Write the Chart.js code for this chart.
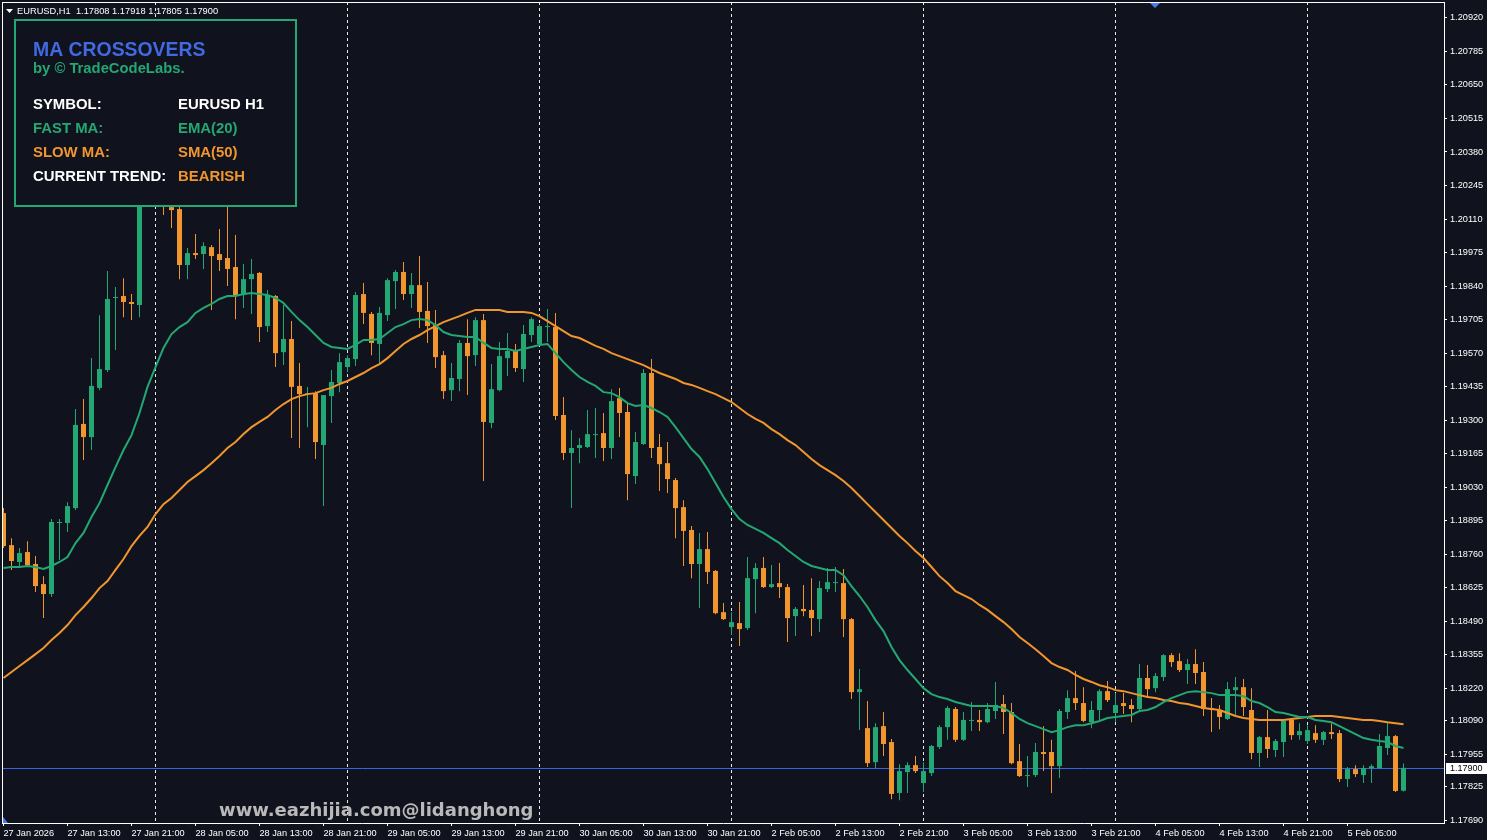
<!DOCTYPE html>
<html>
<head>
<meta charset="utf-8">
<title>EURUSD H1 - MA Crossovers</title>
<script src="https://cdn.jsdelivr.net/npm/chart.js@4.4.1/dist/chart.umd.min.js"></script>
<style>
  html, body { margin: 0; padding: 0; background: #10121d; overflow: hidden; }
  canvas { display: block; }
</style>
</head>
<body>
<canvas id="chart" width="1487" height="840"></canvas>
<script>
// EURUSD H1 candles, 27 Jan 05:00 .. 5 Feb 12:00 (one row = 8 bars)
const opens = [
  1.18926, 1.18797, 1.18729, 1.18769, 1.18721, 1.18640, 1.18600, 1.18886,
  1.18886, 1.18946, 1.19285, 1.19232, 1.19430, 1.19502, 1.19792, 1.19800,
  1.19776, 1.19764, 1.20569, 1.20750, 1.20428, 1.20158, 1.20150, 1.19925,
  1.19973, 1.19969, 1.19997, 1.19969, 1.19953, 1.19917, 1.19804, 1.19868,
  1.19893, 1.19679, 1.19800, 1.19574, 1.19627, 1.19438, 1.19405, 1.19409,
  1.19200, 1.19397, 1.19450, 1.19514, 1.19546, 1.19808, 1.19728, 1.19607,
  1.19723, 1.19860, 1.19897, 1.19808, 1.19844, 1.19740, 1.19683, 1.19562,
  1.19421, 1.19466, 1.19611, 1.19562, 1.19703, 1.19289, 1.19421, 1.19550,
  1.19579, 1.19506, 1.19643, 1.19607, 1.19675, 1.19675, 1.19321, 1.19168,
  1.19188, 1.19192, 1.19240, 1.19248, 1.19188, 1.19389, 1.19333, 1.19075,
  1.19204, 1.19490, 1.19192, 1.19127, 1.19059, 1.18950, 1.18858, 1.18721,
  1.18781, 1.18693, 1.18527, 1.18467, 1.18483, 1.18463, 1.18660, 1.18705,
  1.18628, 1.18644, 1.18628, 1.18511, 1.18540, 1.18536, 1.18499, 1.18620,
  1.18644, 1.18644, 1.18499, 1.18205, 1.18060, 1.17923, 1.18068, 1.18004,
  1.17799, 1.17883, 1.17911, 1.17839, 1.17879, 1.17984, 1.18064, 1.18137,
  1.18013, 1.18089, 1.18093, 1.18084, 1.18129, 1.18157, 1.18125, 1.17927,
  1.17867, 1.17871, 1.17964, 1.17964, 1.17907, 1.18125, 1.18181, 1.18161,
  1.18084, 1.18133, 1.18209, 1.18121, 1.18161, 1.18153, 1.18137, 1.18262,
  1.18221, 1.18266, 1.18354, 1.18330, 1.18294, 1.18318, 1.18286, 1.18141,
  1.18133, 1.18097, 1.18213, 1.18225, 1.18133, 1.17960, 1.18024, 1.17972,
  1.18004, 1.18093, 1.18032, 1.18008, 1.18040, 1.18013, 1.18044, 1.18040,
  1.17855, 1.17895, 1.17871, 1.17899, 1.17899, 1.17980, 1.18028, 1.17808,
];
const highs = [
  1.18946, 1.18825, 1.18785, 1.18813, 1.18753, 1.18672, 1.18902, 1.18902,
  1.18970, 1.19345, 1.19385, 1.19550, 1.19723, 1.19901, 1.19836, 1.19872,
  1.19808, 1.20609, 1.20891, 1.20831, 1.20509, 1.20162, 1.20166, 1.19993,
  1.20050, 1.20017, 1.20005, 1.20070, 1.20166, 1.20046, 1.19929, 1.19949,
  1.19897, 1.19824, 1.19804, 1.19764, 1.19699, 1.19530, 1.19434, 1.19417,
  1.19401, 1.19502, 1.19570, 1.19562, 1.19816, 1.19852, 1.19736, 1.19756,
  1.19872, 1.19905, 1.19937, 1.19893, 1.19961, 1.19856, 1.19744, 1.19579,
  1.19530, 1.19623, 1.19707, 1.19715, 1.19728, 1.19526, 1.19615, 1.19651,
  1.19607, 1.19683, 1.19715, 1.19687, 1.19748, 1.19732, 1.19393, 1.19260,
  1.19228, 1.19341, 1.19349, 1.19329, 1.19425, 1.19430, 1.19369, 1.19252,
  1.19506, 1.19546, 1.19244, 1.19212, 1.19067, 1.18978, 1.18874, 1.18846,
  1.18850, 1.18697, 1.18564, 1.18527, 1.18568, 1.18749, 1.18725, 1.18749,
  1.18717, 1.18725, 1.18640, 1.18548, 1.18636, 1.18664, 1.18652, 1.18705,
  1.18709, 1.18701, 1.18503, 1.18298, 1.18169, 1.18080, 1.18125, 1.18016,
  1.17915, 1.17923, 1.17948, 1.17923, 1.17992, 1.18072, 1.18149, 1.18145,
  1.18125, 1.18165, 1.18133, 1.18161, 1.18246, 1.18193, 1.18161, 1.17996,
  1.17948, 1.18000, 1.18068, 1.18013, 1.18137, 1.18213, 1.18290, 1.18225,
  1.18169, 1.18217, 1.18250, 1.18201, 1.18201, 1.18177, 1.18318, 1.18314,
  1.18282, 1.18358, 1.18362, 1.18362, 1.18338, 1.18378, 1.18326, 1.18181,
  1.18153, 1.18246, 1.18266, 1.18258, 1.18221, 1.18028, 1.18133, 1.18016,
  1.18097, 1.18101, 1.18080, 1.18072, 1.18072, 1.18048, 1.18080, 1.18052,
  1.17903, 1.17911, 1.17911, 1.17915, 1.18036, 1.18084, 1.18032, 1.17918,
];
const lows = [
  1.18785, 1.18697, 1.18709, 1.18709, 1.18608, 1.18503, 1.18588, 1.18737,
  1.18850, 1.18938, 1.19140, 1.19180, 1.19421, 1.19494, 1.19583, 1.19715,
  1.19703, 1.19715, 1.20468, 1.20388, 1.20126, 1.20074, 1.19868, 1.19868,
  1.19949, 1.19909, 1.19744, 1.19901, 1.19840, 1.19707, 1.19752, 1.19728,
  1.19615, 1.19655, 1.19514, 1.19522, 1.19228, 1.19188, 1.19272, 1.19144,
  1.18954, 1.19289, 1.19413, 1.19494, 1.19518, 1.19687, 1.19562, 1.19530,
  1.19699, 1.19748, 1.19784, 1.19752, 1.19671, 1.19611, 1.19510, 1.19385,
  1.19377, 1.19417, 1.19401, 1.19518, 1.19055, 1.19268, 1.19417, 1.19478,
  1.19494, 1.19454, 1.19615, 1.19599, 1.19615, 1.19301, 1.19140, 1.18946,
  1.19127, 1.19188, 1.19148, 1.19136, 1.19144, 1.19232, 1.18978, 1.19043,
  1.19200, 1.19148, 1.19015, 1.19007, 1.18825, 1.18713, 1.18664, 1.18544,
  1.18640, 1.18519, 1.18495, 1.18435, 1.18391, 1.18455, 1.18523, 1.18624,
  1.18624, 1.18584, 1.18407, 1.18431, 1.18511, 1.18431, 1.18447, 1.18608,
  1.18608, 1.18427, 1.18177, 1.18052, 1.17903, 1.17899, 1.17948, 1.17774,
  1.17770, 1.17799, 1.17879, 1.17803, 1.17867, 1.17976, 1.18013, 1.18004,
  1.18008, 1.18048, 1.18048, 1.18080, 1.18097, 1.18036, 1.17915, 1.17863,
  1.17823, 1.17863, 1.17887, 1.17799, 1.17859, 1.18097, 1.18133, 1.18084,
  1.18060, 1.18093, 1.18165, 1.18084, 1.18117, 1.18084, 1.18133, 1.18185,
  1.18205, 1.18250, 1.18306, 1.18286, 1.18238, 1.18238, 1.18109, 1.18044,
  1.18056, 1.18093, 1.18109, 1.18109, 1.17935, 1.17903, 1.17940, 1.17944,
  1.17944, 1.18013, 1.18013, 1.17996, 1.18000, 1.17992, 1.18016, 1.17843,
  1.17823, 1.17863, 1.17839, 1.17839, 1.17895, 1.17952, 1.17803, 1.17805,
];
const closes = [
  1.18793, 1.18733, 1.18765, 1.18717, 1.18632, 1.18600, 1.18890, 1.18890,
  1.18954, 1.19281, 1.19232, 1.19438, 1.19506, 1.19788, 1.19796, 1.19776,
  1.19768, 1.20569, 1.20750, 1.20428, 1.20187, 1.20146, 1.19925, 1.19973,
  1.19965, 1.20001, 1.19961, 1.19945, 1.19909, 1.19804, 1.19868, 1.19889,
  1.19675, 1.19804, 1.19570, 1.19627, 1.19434, 1.19405, 1.19409, 1.19212,
  1.19401, 1.19454, 1.19534, 1.19550, 1.19804, 1.19732, 1.19611, 1.19732,
  1.19864, 1.19897, 1.19808, 1.19844, 1.19736, 1.19679, 1.19554, 1.19417,
  1.19470, 1.19611, 1.19558, 1.19703, 1.19293, 1.19425, 1.19558, 1.19579,
  1.19510, 1.19647, 1.19707, 1.19679, 1.19679, 1.19317, 1.19168, 1.19188,
  1.19200, 1.19244, 1.19244, 1.19188, 1.19377, 1.19329, 1.19083, 1.19212,
  1.19490, 1.19188, 1.19123, 1.19063, 1.18946, 1.18854, 1.18721, 1.18781,
  1.18689, 1.18523, 1.18499, 1.18487, 1.18459, 1.18664, 1.18705, 1.18628,
  1.18640, 1.18628, 1.18503, 1.18540, 1.18531, 1.18503, 1.18624, 1.18648,
  1.18646, 1.18499, 1.18205, 1.18217, 1.17919, 1.18064, 1.17996, 1.17795,
  1.17887, 1.17911, 1.17887, 1.17887, 1.17988, 1.18064, 1.18141, 1.18013,
  1.18093, 1.18093, 1.18084, 1.18137, 1.18153, 1.18125, 1.17919, 1.17867,
  1.17871, 1.17964, 1.17956, 1.17907, 1.18129, 1.18181, 1.18161, 1.18089,
  1.18133, 1.18209, 1.18173, 1.18153, 1.18149, 1.18137, 1.18262, 1.18217,
  1.18270, 1.18354, 1.18326, 1.18294, 1.18318, 1.18282, 1.18137, 1.18133,
  1.18105, 1.18217, 1.18225, 1.18145, 1.17960, 1.18024, 1.17976, 1.18008,
  1.18089, 1.18032, 1.18048, 1.18052, 1.18013, 1.18044, 1.18036, 1.17855,
  1.17895, 1.17875, 1.17899, 1.17907, 1.17988, 1.18028, 1.17807, 1.17900,
];

// indicator values
const emaFast = [
  1.18705, 1.18709, 1.18709, 1.18713, 1.18709, 1.18701, 1.18713, 1.18729,
  1.18749, 1.18805, 1.18846, 1.18910, 1.18966, 1.19039, 1.19111, 1.19180,
  1.19240, 1.19329, 1.19434, 1.19514, 1.19591, 1.19647, 1.19675, 1.19695,
  1.19732, 1.19752, 1.19768, 1.19788, 1.19800, 1.19800, 1.19808, 1.19812,
  1.19808, 1.19804, 1.19792, 1.19772, 1.19736, 1.19703, 1.19675, 1.19643,
  1.19611, 1.19595, 1.19591, 1.19587, 1.19603, 1.19623, 1.19623, 1.19627,
  1.19651, 1.19675, 1.19687, 1.19703, 1.19707, 1.19703, 1.19683, 1.19655,
  1.19643, 1.19639, 1.19635, 1.19635, 1.19611, 1.19591, 1.19587, 1.19587,
  1.19579, 1.19587, 1.19595, 1.19603, 1.19607, 1.19570, 1.19534, 1.19502,
  1.19474, 1.19454, 1.19438, 1.19413, 1.19409, 1.19393, 1.19369, 1.19357,
  1.19361, 1.19349, 1.19333, 1.19313, 1.19272, 1.19228, 1.19184, 1.19152,
  1.19103, 1.19047, 1.18991, 1.18942, 1.18902, 1.18878, 1.18862, 1.18846,
  1.18825, 1.18805, 1.18777, 1.18753, 1.18729, 1.18713, 1.18705, 1.18697,
  1.18697, 1.18676, 1.18632, 1.18592, 1.18548, 1.18495, 1.18451, 1.18387,
  1.18334, 1.18294, 1.18258, 1.18221, 1.18197, 1.18185, 1.18177, 1.18165,
  1.18157, 1.18149, 1.18149, 1.18149, 1.18149, 1.18141, 1.18121, 1.18097,
  1.18080, 1.18068, 1.18056, 1.18044, 1.18052, 1.18064, 1.18072, 1.18072,
  1.18080, 1.18089, 1.18101, 1.18105, 1.18109, 1.18113, 1.18129, 1.18133,
  1.18145, 1.18165, 1.18181, 1.18193, 1.18205, 1.18209, 1.18205, 1.18201,
  1.18193, 1.18193, 1.18193, 1.18189, 1.18169, 1.18161, 1.18145, 1.18125,
  1.18121, 1.18113, 1.18105, 1.18105, 1.18093, 1.18089, 1.18084, 1.18068,
  1.18052, 1.18036, 1.18020, 1.18013, 1.18008, 1.18004, 1.17988, 1.17980,
];
const smaSlow = [
  1.18262, 1.18286, 1.18310, 1.18334, 1.18358, 1.18383, 1.18415, 1.18443,
  1.18475, 1.18515, 1.18548, 1.18584, 1.18624, 1.18652, 1.18697, 1.18741,
  1.18793, 1.18834, 1.18870, 1.18922, 1.18962, 1.18987, 1.19019, 1.19051,
  1.19075, 1.19099, 1.19127, 1.19156, 1.19188, 1.19212, 1.19244, 1.19272,
  1.19293, 1.19313, 1.19341, 1.19365, 1.19385, 1.19397, 1.19405, 1.19409,
  1.19421, 1.19430, 1.19446, 1.19458, 1.19474, 1.19490, 1.19510, 1.19526,
  1.19550, 1.19579, 1.19607, 1.19627, 1.19643, 1.19663, 1.19679, 1.19695,
  1.19707, 1.19719, 1.19732, 1.19744, 1.19744, 1.19744, 1.19744, 1.19736,
  1.19736, 1.19736, 1.19732, 1.19719, 1.19699, 1.19679, 1.19659, 1.19639,
  1.19631, 1.19615, 1.19599, 1.19587, 1.19570, 1.19558, 1.19546, 1.19534,
  1.19522, 1.19506, 1.19490, 1.19478, 1.19466, 1.19450, 1.19442, 1.19430,
  1.19417, 1.19405, 1.19389, 1.19373, 1.19349, 1.19325, 1.19305, 1.19289,
  1.19264, 1.19244, 1.19220, 1.19200, 1.19172, 1.19144, 1.19119, 1.19099,
  1.19079, 1.19055, 1.19027, 1.18995, 1.18962, 1.18930, 1.18898, 1.18866,
  1.18834, 1.18805, 1.18773, 1.18745, 1.18709, 1.18672, 1.18644, 1.18612,
  1.18596, 1.18580, 1.18556, 1.18536, 1.18511, 1.18487, 1.18459, 1.18427,
  1.18403, 1.18378, 1.18350, 1.18322, 1.18306, 1.18294, 1.18274, 1.18258,
  1.18246, 1.18233, 1.18225, 1.18213, 1.18209, 1.18201, 1.18193, 1.18185,
  1.18181, 1.18173, 1.18169, 1.18161, 1.18157, 1.18149, 1.18141, 1.18137,
  1.18133, 1.18121, 1.18109, 1.18101, 1.18097, 1.18093, 1.18093, 1.18093,
  1.18093, 1.18097, 1.18101, 1.18105, 1.18109, 1.18109, 1.18109, 1.18105,
  1.18101, 1.18097, 1.18093, 1.18093, 1.18089, 1.18084, 1.18080, 1.18076,
];

// time axis labels, one every 8 bars
const timeLabels = [
  '27 Jan 2026', '27 Jan 13:00', '27 Jan 21:00', '28 Jan 05:00', '28 Jan 13:00',
  '28 Jan 21:00', '29 Jan 05:00', '29 Jan 13:00', '29 Jan 21:00', '30 Jan 05:00',
  '30 Jan 13:00', '30 Jan 21:00', '2 Feb 05:00', '2 Feb 13:00', '2 Feb 21:00',
  '3 Feb 05:00', '3 Feb 13:00', '3 Feb 21:00', '4 Feb 05:00', '4 Feb 13:00',
  '4 Feb 21:00', '5 Feb 05:00',
];
const barsPerLabel = 8;
// bars that open a new day (00:00)
const dayStarts = [19, 43, 67, 91, 115, 139, 163];

const priceTicks = [
  1.17690, 1.17825, 1.17955, 1.18090, 1.18220, 1.18355, 1.18490, 1.18625,
  1.18760, 1.18895, 1.19030, 1.19165, 1.19300, 1.19435, 1.19570, 1.19705,
  1.19840, 1.19975, 1.20110, 1.20245, 1.20380, 1.20515, 1.20650, 1.20785,
  1.20920,
];

const BG = '#10121d';
const UP = '#23a873';
const DOWN = '#f0962d';
const PRICE_LINE = '#3b63e6';
const FONT = "'Liberation Sans', Arial, sans-serif";

const last = closes.length - 1;
const candleColors = opens.map((o, i) => (closes[i] >= o ? UP : DOWN));
const wickData = highs.map((h, i) => ({ x: i, y: [lows[i], h] }));
const bodyData = opens.map((o, i) => ({ x: i, y: [o, closes[i]] }));
const emaData = emaFast.map((v, i) => ({ x: i, y: v }));
const smaData = smaSlow.map((v, i) => ({ x: i, y: v }));

Chart.defaults.font.family = FONT;

// background + dashed day separators + bid line, under the candles
const underlay = {
  id: 'underlay',
  beforeDraw(chart) {
    const { ctx, width, height } = chart;
    ctx.save();
    ctx.fillStyle = BG;
    ctx.fillRect(0, 0, width, height);
    ctx.restore();
  },
  beforeDatasetsDraw(chart) {
    const { ctx, chartArea, scales } = chart;
    ctx.save();
    ctx.strokeStyle = '#e6e6e6';
    ctx.lineWidth = 1;
    ctx.setLineDash([3, 3]);
    dayStarts.forEach((bar) => {
      const x = Math.floor(scales.x.getPixelForValue(bar)) + 0.5;
      ctx.beginPath();
      ctx.moveTo(x, chartArea.top);
      ctx.lineTo(x, chartArea.bottom);
      ctx.stroke();
    });
    ctx.setLineDash([]);
    const y = Math.round(scales.y.getPixelForValue(closes[last])) + 0.5;
    ctx.strokeStyle = PRICE_LINE;
    ctx.beginPath();
    ctx.moveTo(chartArea.left, y);
    ctx.lineTo(chartArea.right, y);
    ctx.stroke();
    ctx.restore();
  },
};

// frame, price tag, header line, info panel, watermark
const overlay = {
  id: 'overlay',
  afterDraw(chart) {
    const { ctx, chartArea, scales } = chart;
    ctx.save();

    ctx.fillStyle = '#ffffff';
    ctx.fillRect(chartArea.left, chartArea.top, 1, chartArea.bottom - chartArea.top);
    ctx.fillRect(chartArea.left, chartArea.top, chartArea.right - chartArea.left, 1);

    // current price tag on the axis
    const py = scales.y.getPixelForValue(closes[last]);
    ctx.fillStyle = '#ffffff';
    ctx.fillRect(chartArea.right + 2, Math.round(py) - 5, 41, 11);
    ctx.fillStyle = '#000000';
    ctx.font = `9px ${FONT}`;
    ctx.textBaseline = 'middle';
    ctx.fillText(closes[last].toFixed(5), chartArea.right + 6, Math.round(py) + 0.5);

    // little blue markers
    ctx.fillStyle = '#4f7bf0';
    ctx.beginPath();
    ctx.moveTo(1150, 3);
    ctx.lineTo(1160, 3);
    ctx.lineTo(1155, 8);
    ctx.closePath();
    ctx.fill();
    ctx.beginPath();
    ctx.moveTo(3, 817);
    ctx.lineTo(3, 823);
    ctx.lineTo(8, 823);
    ctx.closePath();
    ctx.fill();

    // header
    ctx.fillStyle = '#ffffff';
    ctx.beginPath();
    ctx.moveTo(6, 9);
    ctx.lineTo(13, 9);
    ctx.lineTo(9.5, 13);
    ctx.closePath();
    ctx.fill();
    ctx.textBaseline = 'alphabetic';
    ctx.font = `9.3px ${FONT}`;
    const ohlc = [opens[last], highs[last], lows[last], closes[last]].map((v) => v.toFixed(5)).join(' ');
    ctx.fillText(`EURUSD,H1  ${ohlc}`, 17, 14);

    // info panel
    ctx.fillStyle = BG;
    ctx.fillRect(15, 20, 281, 186);
    ctx.strokeStyle = UP;
    ctx.lineWidth = 2;
    ctx.strokeRect(15, 20, 281, 186);

    ctx.fillStyle = '#4169e1';
    ctx.font = `bold 19.4px ${FONT}`;
    ctx.fillText('MA CROSSOVERS', 33, 56);
    ctx.fillStyle = UP;
    ctx.font = `bold 14.8px ${FONT}`;
    ctx.fillText('by © TradeCodeLabs.', 33, 73);

    const trend = emaFast[last] < smaSlow[last] ? 'BEARISH' : 'BULLISH';
    const rows = [
      ['SYMBOL:', '#ffffff', 'EURUSD H1', '#ffffff'],
      ['FAST MA:', UP, 'EMA(20)', UP],
      ['SLOW MA:', DOWN, 'SMA(50)', DOWN],
      ['CURRENT TREND:', '#ffffff', trend, trend === 'BEARISH' ? DOWN : UP],
    ];
    ctx.font = `bold 14.9px ${FONT}`;
    rows.forEach(([label, labelColor, value, valueColor], i) => {
      const y = 109 + i * 24;
      ctx.fillStyle = labelColor;
      ctx.fillText(label, 33, y);
      ctx.fillStyle = valueColor;
      ctx.fillText(value, 178, y);
    });

    // watermark
    ctx.fillStyle = 'rgba(200, 200, 200, 0.92)';
    ctx.font = "bold 18px 'DejaVu Sans', sans-serif";
    ctx.fillText('www.eazhijia.com@lidanghong', 219, 816);

    ctx.restore();
  },
};

const ctx = document.getElementById('chart').getContext('2d');

const chart = new Chart(ctx, {
  type: 'bar',
  data: {
    datasets: [
      {
        type: 'line',
        label: 'EMA(20)',
        data: emaData,
        borderColor: UP,
        borderWidth: 2,
        pointRadius: 0,
        tension: 0,
        order: 1,
      },
      {
        type: 'line',
        label: 'SMA(50)',
        data: smaData,
        borderColor: DOWN,
        borderWidth: 2,
        pointRadius: 0,
        tension: 0,
        order: 1,
      },
      {
        label: 'body',
        data: bodyData,
        backgroundColor: candleColors,
        barThickness: 5,
        minBarLength: 1,
        grouped: false,
        borderWidth: 0,
        inflateAmount: 0,
        order: 2,
      },
      {
        label: 'wick',
        data: wickData,
        backgroundColor: candleColors,
        barThickness: 1,
        minBarLength: 1,
        grouped: false,
        borderWidth: 0,
        inflateAmount: 0,
        order: 3,
      },
    ],
  },
  plugins: [underlay, overlay],
  options: {
    responsive: false,
    animation: false,
    events: [],
    layout: { padding: { left: 2, top: 2, right: 0, bottom: 0 } },
    plugins: {
      legend: { display: false },
      tooltip: { enabled: false },
    },
    scales: {
      x: {
        type: 'linear',
        offset: false,
        min: -0.1875,
        max: 180.0625,
        grid: {
          offset: false,
          drawOnChartArea: false,
          drawTicks: true,
          tickLength: 3,
          color: '#ffffff',
        },
        border: { color: '#ffffff', width: 1 },
        ticks: {
          color: '#ffffff',
          font: { size: 9.2 },
          align: 'start',
          padding: 2,
          maxRotation: 0,
          minRotation: 0,
          autoSkip: false,
          callback: (value, index) => timeLabels[index],
        },
        afterBuildTicks(scale) {
          scale.ticks = timeLabels.map((_, i) => ({ value: i * barsPerLabel }));
        },
        afterFit(scale) {
          scale.height = 17;
          scale.paddingLeft = 0;
          scale.paddingRight = 0;
        },
      },
      y: {
        position: 'right',
        min: 1.17678,
        max: 1.20984,
        grid: {
          drawOnChartArea: false,
          drawTicks: true,
          tickLength: 3,
          color: '#ffffff',
        },
        border: { color: '#ffffff', width: 1 },
        ticks: {
          color: '#ffffff',
          font: { size: 9.2 },
          padding: 3,
          callback: (value) => value.toFixed(5),
        },
        afterBuildTicks(scale) {
          scale.ticks = priceTicks.map((v) => ({ value: v }));
        },
        afterFit(scale) {
          scale.width = 43;
          scale.paddingTop = 0;
          scale.paddingBottom = 0;
        },
      },
    },
  },
});
</script>
</body>
</html>
